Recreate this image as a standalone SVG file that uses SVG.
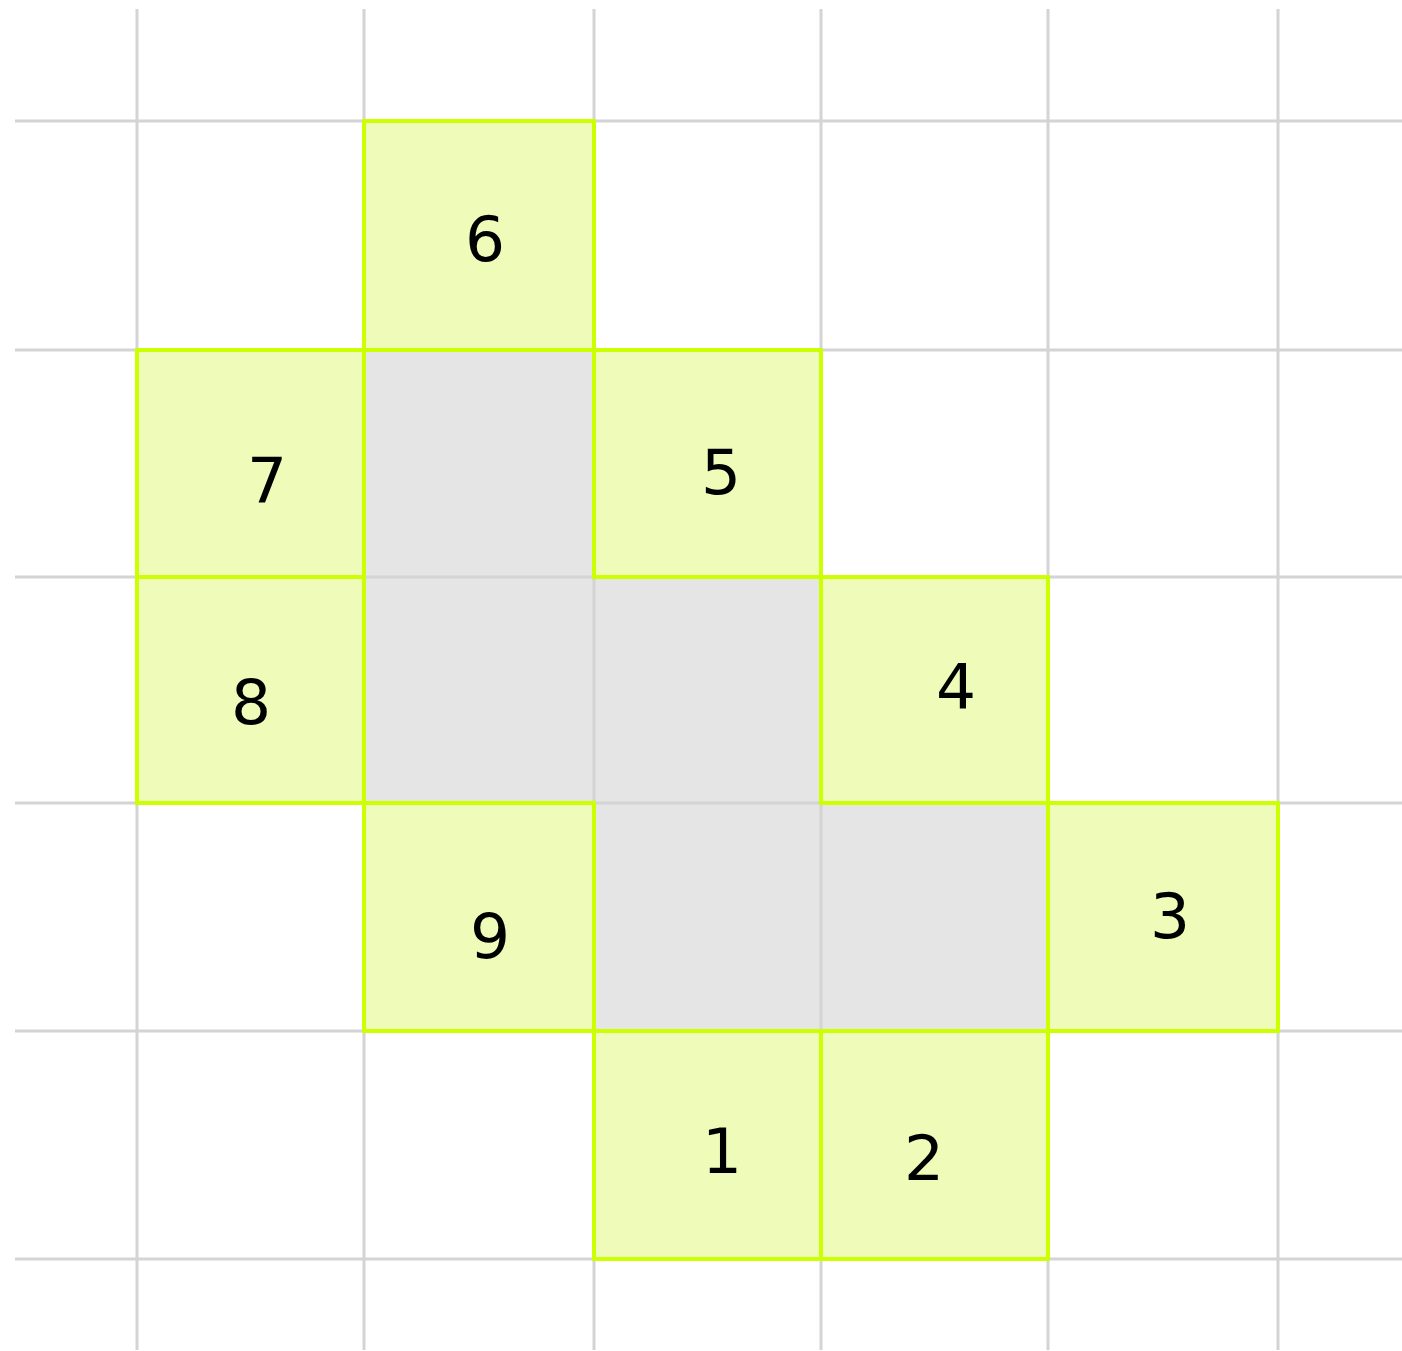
<svg xmlns="http://www.w3.org/2000/svg" width="1402" height="1351" viewBox="0 0 1402 1351">
<style>
.grid line{stroke:#d4d4d4;stroke-width:3}
.gray{fill:#e5e5e5}
.cell rect{fill:#eefbb9;stroke:#ccff00;stroke-width:4}
.cell text{font-family:"DejaVu Sans",Verdana,sans-serif;font-size:63px;fill:#000;text-anchor:middle}
</style>
<rect width="1402" height="1351" fill="#ffffff"/>
<g id="gray-cells">
<rect class="gray" x="364" y="350" width="230" height="227"/>
<rect class="gray" x="364" y="577" width="230" height="226"/>
<rect class="gray" x="594" y="577" width="227" height="226"/>
<rect class="gray" x="594" y="803" width="227" height="228"/>
<rect class="gray" x="821" y="803" width="227" height="228"/>
</g>
<g class="grid" id="grid">
<line x1="137" y1="9" x2="137" y2="1350"/>
<line x1="364" y1="9" x2="364" y2="1350"/>
<line x1="594" y1="9" x2="594" y2="1350"/>
<line x1="821" y1="9" x2="821" y2="1350"/>
<line x1="1048" y1="9" x2="1048" y2="1350"/>
<line x1="1278" y1="9" x2="1278" y2="1350"/>
<line x1="15" y1="121" x2="1402" y2="121"/>
<line x1="15" y1="350" x2="1402" y2="350"/>
<line x1="15" y1="577" x2="1402" y2="577"/>
<line x1="15" y1="803" x2="1402" y2="803"/>
<line x1="15" y1="1031" x2="1402" y2="1031"/>
<line x1="15" y1="1259" x2="1402" y2="1259"/>
</g>
<g id="cell-6" class="cell"><rect x="364" y="121" width="230" height="229"/><text x="485" y="261">6</text></g>
<g id="cell-7" class="cell"><rect x="137" y="350" width="227" height="227"/><text x="267" y="502">7</text></g>
<g id="cell-5" class="cell"><rect x="594" y="350" width="227" height="227"/><text x="721" y="494">5</text></g>
<g id="cell-8" class="cell"><rect x="137" y="577" width="227" height="226"/><text x="251" y="724">8</text></g>
<g id="cell-4" class="cell"><rect x="821" y="577" width="227" height="226"/><text x="956" y="709">4</text></g>
<g id="cell-9" class="cell"><rect x="364" y="803" width="230" height="228"/><text x="490" y="958">9</text></g>
<g id="cell-3" class="cell"><rect x="1048" y="803" width="230" height="228"/><text x="1170" y="938">3</text></g>
<g id="cell-1" class="cell"><rect x="594" y="1031" width="227" height="228"/><text x="722" y="1173">1</text></g>
<g id="cell-2" class="cell"><rect x="821" y="1031" width="227" height="228"/><text x="924" y="1180">2</text></g>
</svg>
